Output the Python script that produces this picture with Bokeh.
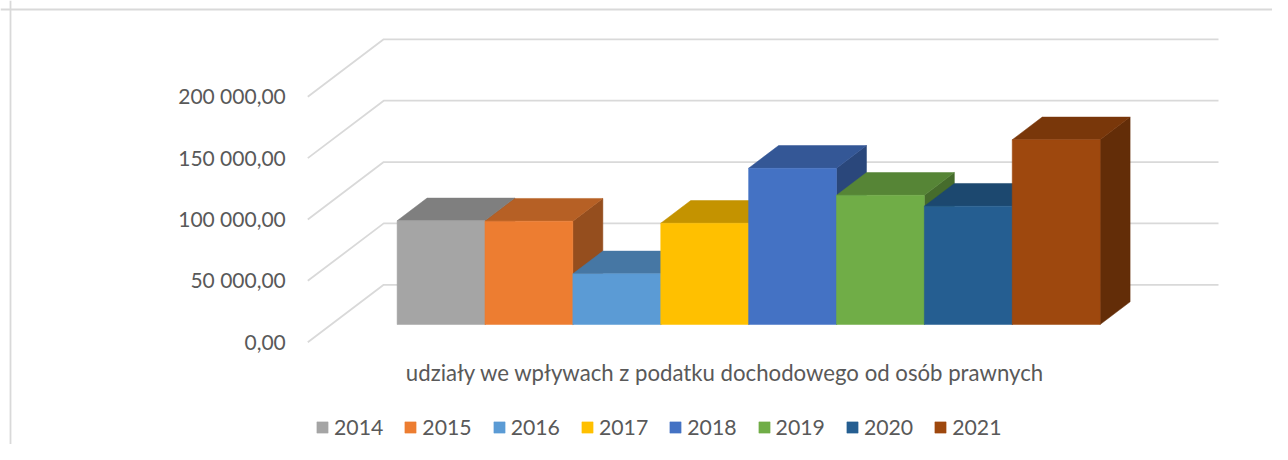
from bokeh.plotting import figure
from bokeh.models import (Range1d, LinearAxis, FixedTicker, Legend, LegendItem, Span)
from bokeh.core.properties import value
from bokeh.embed import file_html
from bokeh.resources import INLINE

years = ["2014", "2015", "2016", "2017", "2018", "2019", "2020", "2021"]
shares = [84500, 84200, 41300, 82500, 127300, 105300, 96400, 150500]
colors = ["#a5a5a5", "#ed7d31", "#5b9bd5", "#ffc000", "#4472c4", "#70ad47", "#255e91", "#9e480e"]
ticks = [0, 50000, 100000, 150000, 200000]
tick_labels = ["0,00", "50 000,00", "100 000,00", "150 000,00", "200 000,00"]
category = "udziały we wpływach z podatku dochodowego od osób prawnych"

FONT = "Lato"
TXT = "#595959"
GRID = "#d9d9d9"
W, H = 1272, 444

# screen geometry of the oblique projection
PX_PER_BAR = 87.875
PX_PER_VALUE = 61.37 / 50000
X0_PX, Y0_PX = 396.6, 324                  # bar-plane origin inside the figure
DX = 30 / PX_PER_BAR                       # shift of one bar depth, in category units
DY = 22.7 / PX_PER_VALUE                   # shift of one bar depth, in value units
WALL_GAP = 0.75
D_FRONT, D_BACK = -0.78, 1.75


def shade(c, f):
    return "#" + "".join(f"{int(int(c[i:i+2], 16) * f):02x}" for i in (1, 3, 5))


x_start = -X0_PX / PX_PER_BAR
x_end = (W - X0_PX) / PX_PER_BAR
y_end = Y0_PX / PX_PER_VALUE
y_start = -(H - Y0_PX) / PX_PER_VALUE

p = figure(width=W, height=H, output_backend="svg", toolbar_location=None,
           x_range=Range1d(x_start, x_end), y_range=Range1d(y_start, y_end),
           min_border=0, x_axis_type=None, y_axis_type=None,
           background_fill_color="white", border_fill_color="white",
           outline_line_color=None)
p.grid.visible = False

# chart-area border
p.add_layout(Span(location=x_start + 10 / PX_PER_BAR, dimension="height", line_color=GRID, line_width=1.8))
p.add_layout(Span(location=y_end - 9 / PX_PER_VALUE, dimension="width", line_color=GRID, line_width=1.8))

# walls
n = len(years)
xl, xr = -WALL_GAP, n + WALL_GAP
gx, gy = [], []
for t in ticks:
    gx.append([xl + D_FRONT * DX, xl + D_BACK * DX, xr + D_BACK * DX])
    gy.append([t + D_FRONT * DY, t + D_BACK * DY, t + D_BACK * DY])
p.multi_line(gx, gy, line_color=GRID, line_width=1.8)

# bars, painted left to right
items = []
for i, (year, v, c) in enumerate(zip(years, shares, colors)):
    side, top = shade(c, 0.63), shade(c, 0.77)
    p.patch([i + 1, i + 1 + DX, i + 1 + DX, i + 1], [0, DY, v + DY, v],
            fill_color=side, line_color=side, line_width=0.5)
    p.patch([i, i + DX, i + 1 + DX, i + 1], [v, v + DY, v + DY, v],
            fill_color=top, line_color=top, line_width=0.5)
    q = p.quad(left=[i], right=[i + 1], bottom=[0], top=[v],
               fill_color=c, line_color=c, line_width=0.5)
    items.append(LegendItem(label=year, renderers=[q]))

# value axis on the front edge of the side wall (labels sit 1px above the line start)
label_lift = 1 / PX_PER_VALUE
p.extra_y_ranges["front"] = Range1d(y_start - D_FRONT * DY - label_lift, y_end - D_FRONT * DY - label_lift)
axis = LinearAxis(y_range_name="front", ticker=FixedTicker(ticks=ticks),
                  major_label_overrides=dict(zip(ticks, tick_labels)),
                  fixed_location=xl + D_FRONT * DX,
                  axis_line_color=None, major_tick_line_color=None, minor_tick_line_color=None,
                  major_tick_in=0, major_tick_out=0, major_label_standoff=22,
                  major_label_text_font=FONT, major_label_text_font_size="21px",
                  major_label_text_color=TXT)
p.add_layout(axis, "left")

# category label, centred under the front floor edge
p.text([(xl + xr) / 2 + D_FRONT * DX], [-47.5 / PX_PER_VALUE], text=[category],
       text_font=value(FONT), text_font_size="22.2px", text_color=TXT,
       text_align="center", text_baseline="middle")

legend = Legend(items=items, orientation="horizontal", location=(315, 4),
                glyph_width=14, glyph_height=14, label_standoff=5, spacing=20,
                padding=0, margin=0, border_line_color=None, background_fill_alpha=0,
                label_text_font=FONT, label_text_font_size="21.25px", label_text_color=TXT)
p.add_layout(legend, "center")

open("out.html", "w").write(file_html(p, INLINE))
